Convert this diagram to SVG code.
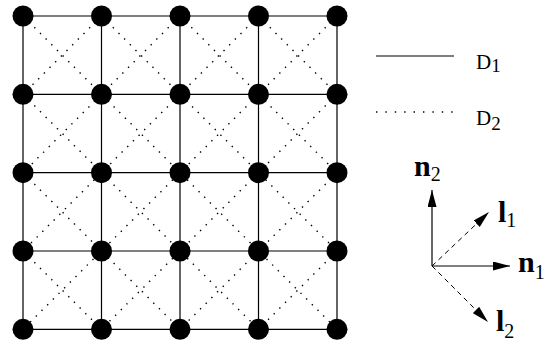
<svg xmlns="http://www.w3.org/2000/svg" width="556" height="346" viewBox="0 0 556 346">
<defs>
<style>
.solid{stroke:#000;stroke-width:1.2;fill:none}
.dot{stroke:#000;stroke-width:1.4;fill:none;stroke-dasharray:1.4 6.6;stroke-linecap:butt}
.dash{stroke:#000;stroke-width:1;fill:none;stroke-dasharray:5 4}
.vec{stroke:#000;stroke-width:1.2;fill:none}
.node{fill:#000}
.lbl{font-family:"Liberation Serif","Times New Roman",serif;fill:#000}
.b{font-weight:bold}
.s{font-weight:normal}
</style>
<marker id="ah" viewBox="0 0 17 9" refX="17" refY="4.5" markerWidth="17" markerHeight="9" markerUnits="userSpaceOnUse" orient="auto">
<path d="M0,0 L17,4.5 L0,9 Z" fill="#000"/>
</marker>
</defs>
<rect width="556" height="346" fill="#fff"/>
<g id="connectors">
<path class="solid" d="M23,16H337M23,94.3H337M23,172.7H337M23,251H337M23,329.3H337M23,16V329.3M101.5,16V329.3M180,16V329.3M258.5,16V329.3M337,16V329.3"/>
<path class="dot" d="M23,16L337,329.3M101.5,16L337,251M180,16L337,172.7M258.5,16L337,94.3M23,94.3L258.5,329.3M23,172.7L180,329.3M23,251L101.5,329.3M337,16L23,329.3M258.5,16L23,251M180,16L23,172.7M101.5,16L23,94.3M337,94.3L101.5,329.3M337,172.7L180,329.3M337,251L258.5,329.3"/>
</g>
<g id="nodes">
<g id="n00"><circle class="node" cx="23" cy="16" r="10.5"/></g>
<g id="n01"><circle class="node" cx="101.5" cy="16" r="10.5"/></g>
<g id="n02"><circle class="node" cx="180" cy="16" r="10.5"/></g>
<g id="n03"><circle class="node" cx="258.5" cy="16" r="10.5"/></g>
<g id="n04"><circle class="node" cx="337" cy="16" r="10.5"/></g>
<g id="n10"><circle class="node" cx="23" cy="94.3" r="10.5"/></g>
<g id="n11"><circle class="node" cx="101.5" cy="94.3" r="10.5"/></g>
<g id="n12"><circle class="node" cx="180" cy="94.3" r="10.5"/></g>
<g id="n13"><circle class="node" cx="258.5" cy="94.3" r="10.5"/></g>
<g id="n14"><circle class="node" cx="337" cy="94.3" r="10.5"/></g>
<g id="n20"><circle class="node" cx="23" cy="172.7" r="10.5"/></g>
<g id="n21"><circle class="node" cx="101.5" cy="172.7" r="10.5"/></g>
<g id="n22"><circle class="node" cx="180" cy="172.7" r="10.5"/></g>
<g id="n23"><circle class="node" cx="258.5" cy="172.7" r="10.5"/></g>
<g id="n24"><circle class="node" cx="337" cy="172.7" r="10.5"/></g>
<g id="n30"><circle class="node" cx="23" cy="251" r="10.5"/></g>
<g id="n31"><circle class="node" cx="101.5" cy="251" r="10.5"/></g>
<g id="n32"><circle class="node" cx="180" cy="251" r="10.5"/></g>
<g id="n33"><circle class="node" cx="258.5" cy="251" r="10.5"/></g>
<g id="n34"><circle class="node" cx="337" cy="251" r="10.5"/></g>
<g id="n40"><circle class="node" cx="23" cy="329.3" r="10.5"/></g>
<g id="n41"><circle class="node" cx="101.5" cy="329.3" r="10.5"/></g>
<g id="n42"><circle class="node" cx="180" cy="329.3" r="10.5"/></g>
<g id="n43"><circle class="node" cx="258.5" cy="329.3" r="10.5"/></g>
<g id="n44"><circle class="node" cx="337" cy="329.3" r="10.5"/></g>
</g>
<g id="legend">
<line class="solid" x1="376" y1="56" x2="454" y2="56"/>
<line class="dot" x1="376" y1="112" x2="454" y2="112" style="stroke-dasharray:1.4 8"/>
<text class="lbl" x="476" y="69" font-size="21">D<tspan font-size="19" dy="3">1</tspan></text>
<text class="lbl" x="476" y="125" font-size="21">D<tspan font-size="19" dy="5">2</tspan></text>
</g>
<g id="vectors">
<line class="vec" x1="432" y1="266" x2="432" y2="190" marker-end="url(#ah)"/>
<line class="vec" x1="432" y1="266" x2="510" y2="266" marker-end="url(#ah)"/>
<line class="dash" x1="432" y1="266" x2="489" y2="212" marker-end="url(#ah)"/>
<line class="dash" x1="432" y1="266" x2="488" y2="322" marker-end="url(#ah)"/>
<text class="lbl b" x="414" y="176" font-size="30">n<tspan class="s" font-size="20" dy="5">2</tspan></text>
<text class="lbl b" x="498" y="222" font-size="30">l<tspan class="s" font-size="20" dy="5">1</tspan></text>
<text class="lbl b" x="518" y="272" font-size="30">n<tspan class="s" font-size="20" dy="7">1</tspan></text>
<text class="lbl b" x="496" y="331" font-size="30">l<tspan class="s" font-size="20" dy="7">2</tspan></text>
</g>
</svg>
